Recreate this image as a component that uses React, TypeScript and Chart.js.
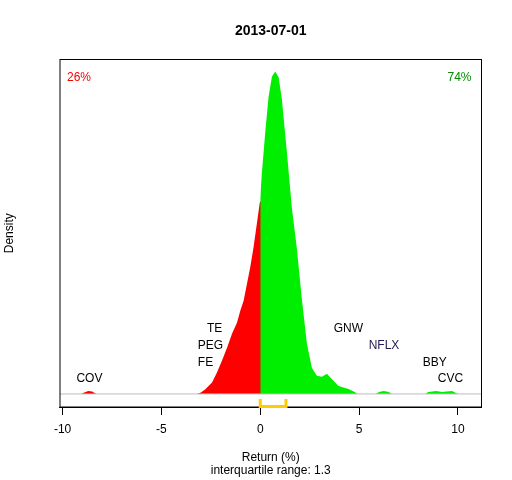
import React, { useEffect, useRef } from "react";
import { Chart, registerables } from "chart.js";

Chart.register(...registerables);

const FONT = "'Liberation Sans', Arial, sans-serif";

const titleText = "2013-07-01";
const xTitle = ["Return (%)", "interquartile range: 1.3"];
const yTitle = "Density";
const xTicks = [-10, -5, 0, 5, 10];
const xRange = [-10.13, 11.19];
const yRange = [-0.017, 0.4359];

const redX = [-10.13, -9.05, -8.9, -8.7, -8.5, -8.3, -3.2, -3.0, -2.78, -2.44, -2.19, -1.94, -1.68, -1.43, -1.18, -1.01, -0.84, -0.67, -0.51, -0.34, -0.17, -0.03, 0, 0.05];
const redY = [0, 0, 0.002, 0.0039, 0.0033, 0, 0, 0.002, 0.0062, 0.0148, 0.0279, 0.0432, 0.0602, 0.0785, 0.0929, 0.1086, 0.1217, 0.144, 0.1649, 0.1911, 0.2225, 0.2487, 0.2513, 0.2513];

const greenX = [0, 0.08, 0.25, 0.42, 0.59, 0.76, 0.93, 1.09, 1.35, 1.6, 1.85, 2.1, 2.36, 2.61, 2.86, 3.12, 3.37, 3.62, 3.96, 4.46, 4.8, 4.9, 5.85, 6.0, 6.25, 6.5, 6.65, 8.35, 8.5, 8.9, 9.2, 9.4, 9.7, 10.0, 11.19];
const greenY = [0.2552, 0.288, 0.3403, 0.3874, 0.4136, 0.4202, 0.4123, 0.3848, 0.3141, 0.2421, 0.1898, 0.1243, 0.0654, 0.034, 0.0236, 0.0223, 0.0262, 0.0196, 0.0105, 0.0065, 0.0022, 0, 0, 0.0026, 0.0039, 0.0026, 0, 0, 0.0026, 0.0039, 0.0026, 0.0033, 0.0039, 0, 0];

const stockNames = ["TE", "PEG", "FE", "COV", "GNW", "NFLX", "BBY", "CVC"];
const stockX = [-2.31, -2.52, -2.77, -8.64, 4.46, 6.26, 8.82, 9.62];
const stockY = [0.0857, 0.0634, 0.0406, 0.0196, 0.0857, 0.0634, 0.0406, 0.0196];
const stockColors = ["#000000", "#000000", "#000000", "#000000", "#000000", "#221b55", "#000000", "#000000"];

const pctLabels = ["26%", "74%"];
const iqr = [0.0, 1.3];

const annotPlugin = {
  id: "annot",
  afterDraw(chart: any) {
    const { ctx, chartArea, scales } = chart;
    const xs = scales.x;
    const ys = scales.y;
    ctx.save();
    ctx.strokeStyle = "#000";
    ctx.lineWidth = 1;
    ctx.strokeRect(chartArea.left, chartArea.top, chartArea.right - chartArea.left, chartArea.bottom - chartArea.top);
    ctx.font = `12px ${FONT}`;
    ctx.textAlign = "center";
    ctx.textBaseline = "middle";
    stockNames.forEach((n, i) => {
      ctx.fillStyle = stockColors[i];
      ctx.fillText(n, xs.getPixelForValue(stockX[i]), ys.getPixelForValue(stockY[i]));
    });
    ctx.textAlign = "left";
    ctx.fillStyle = "#FF0000";
    ctx.fillText(pctLabels[0], chartArea.left + 7, chartArea.top + 18);
    ctx.textAlign = "right";
    ctx.fillStyle = "#008B00";
    ctx.fillText(pctLabels[1], chartArea.right - 10, chartArea.top + 18);
    const x0 = xs.getPixelForValue(iqr[0]);
    const x1 = xs.getPixelForValue(iqr[1]);
    const yb = chartArea.bottom - 0.5;
    const yt = ys.getPixelForValue(-0.0065);
    ctx.strokeStyle = "#FFCC00";
    ctx.lineWidth = 3;
    ctx.lineJoin = "miter";
    ctx.beginPath();
    ctx.moveTo(x0, yt);
    ctx.lineTo(x0, yb);
    ctx.lineTo(x1, yb);
    ctx.lineTo(x1, yt);
    ctx.stroke();
    ctx.restore();
  },
};

export default function App() {
  const ref = useRef<HTMLCanvasElement | null>(null);
  useEffect(() => {
    document.body.style.margin = "0";
    const canvas = ref.current;
    if (!canvas) return;
    const chart = new Chart(canvas, {
      type: "line",
      data: {
        datasets: [
          {
            data: redX.map((x, i) => ({ x, y: redY[i] })),
            backgroundColor: "#FF0000",
            borderWidth: 0,
            pointRadius: 0,
            fill: "origin",
            tension: 0,
            order: 3,
          },
          {
            data: greenX.map((x, i) => ({ x, y: greenY[i] })),
            backgroundColor: "#00EE00",
            borderWidth: 0,
            pointRadius: 0,
            fill: "origin",
            tension: 0,
            order: 2,
          },
          {
            data: [
              { x: xRange[0], y: 0 },
              { x: xRange[1], y: 0 },
            ],
            borderColor: "#BEBEBE",
            borderWidth: 1,
            pointRadius: 0,
            fill: false,
            order: 1,
          },
        ],
      },
      options: {
        animation: false,
        responsive: false,
        devicePixelRatio: 1,
        layout: { padding: { left: 0, right: 30.5, top: 0, bottom: 0 } },
        plugins: {
          legend: { display: false },
          tooltip: { enabled: false },
          title: {
            display: true,
            text: titleText,
            color: "#000",
            font: { family: FONT, size: 14, weight: "bold" },
            padding: { top: 23.1, bottom: 19.6 },
            fullSize: false,
          },
        },
        scales: {
          x: {
            type: "linear",
            min: xRange[0],
            max: xRange[1],
            afterBuildTicks: (scale: any) => {
              scale.ticks = xTicks.map((v) => ({ value: v }));
            },
            grid: { display: true, drawOnChartArea: false, drawTicks: true, tickLength: 8, color: "#000" },
            border: { display: true, color: "#000" },
            ticks: {
              color: "#000",
              font: { family: FONT, size: 12 },
              padding: 7,
              maxRotation: 0,
              autoSkip: false,
            },
            title: {
              display: true,
              text: xTitle,
              color: "#000",
              font: { family: FONT, size: 12, lineHeight: 1.125 },
              padding: { top: 7.35, bottom: 2.25 },
            },
          },
          y: {
            type: "linear",
            min: yRange[0],
            max: yRange[1],
            grid: { display: false },
            border: { display: false },
            ticks: { display: false },
            title: {
              display: true,
              text: yTitle,
              color: "#000",
              font: { family: FONT, size: 12 },
              padding: { top: 2.8, bottom: 34.8 },
            },
          },
        },
      },
      plugins: [annotPlugin],
    } as any);
    return () => chart.destroy();
  }, []);
  return (
    <div style={{ position: "fixed", left: 0, top: 0, width: 512, height: 480, background: "#fff" }}>
      <canvas ref={ref} width={512} height={480} />
    </div>
  );
}
